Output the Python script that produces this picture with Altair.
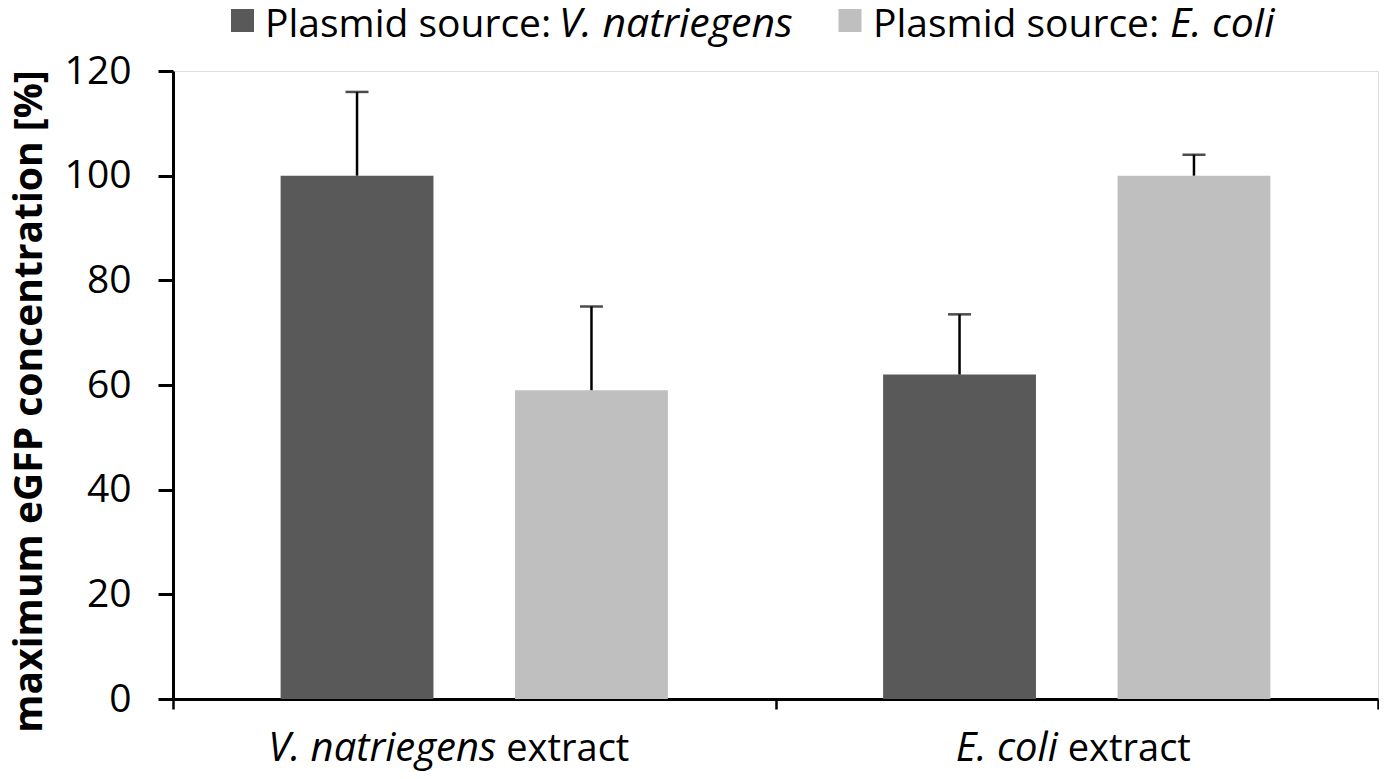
import altair as alt
import pandas as pd

# ---- data ----
extracts = ["V. natriegens extract", "E. coli extract"]
sources = ["V. natriegens", "E. coli"]
colors = ["#595959", "#bfbfbf"]
# mean values per extract, for each plasmid source
mean_vn_plasmid = [100, 62]
mean_ec_plasmid = [59, 100]
# upper error (SD) per extract, for each plasmid source
err_vn_plasmid = [16, 11.5]
err_ec_plasmid = [16, 4]

label_italic = ["V. natriegens", "E. coli"]
label_regular = ["extract", "extract"]
legend_prefix = "Plasmid source:"
y_ticks = [0, 20, 40, 60, 80, 100, 120]
y_title = "maximum eGFP concentration [%]"

rows = []
for i, ex in enumerate(extracts):
    rows.append({"extract": ex, "source": sources[0], "value": mean_vn_plasmid[i],
                 "upper": mean_vn_plasmid[i] + err_vn_plasmid[i]})
    rows.append({"extract": ex, "source": sources[1], "value": mean_ec_plasmid[i],
                 "upper": mean_ec_plasmid[i] + err_ec_plasmid[i]})
df = pd.DataFrame(rows)
lab_df = pd.DataFrame({"extract": extracts, "italic": label_italic, "regular": label_regular})
one = pd.DataFrame({"k": [0]})

W, H = 1205, 628
FONT = "Open Sans"

x_enc = alt.X("extract:N", sort=extracts,
              scale=alt.Scale(domain=extracts, paddingInner=0, paddingOuter=0),
              axis=alt.Axis(title=None, labels=False, tickBand="extent", tickSize=10,
                            tickWidth=2.5, tickColor="black", domainColor="black",
                            domainWidth=3))
xoff = alt.XOffset("source:N", sort=sources,
                   scale=alt.Scale(domain=sources, paddingInner=0.348, paddingOuter=0.459))
y_scale = alt.Scale(domain=[0, 120], nice=False)
y_axis = alt.Axis(values=y_ticks, tickSize=15, tickWidth=3, tickColor="black",
                  domainColor="black", domainWidth=3, grid=False,
                  labelFont=FONT, labelFontSize=39, labelColor="black", labelPadding=27,
                  title=y_title, titleFont=FONT, titleFontSize=39, titleFontWeight="bold",
                  titleColor="black", titleAngle=270, titleX=-132, titleY=330,
                  titleBaseline="alphabetic", titleAlign="center")

bars = alt.Chart(df).mark_bar().encode(
    x=x_enc, xOffset=xoff,
    y=alt.Y("value:Q", scale=y_scale, axis=y_axis),
    color=alt.Color("source:N", sort=sources,
                    scale=alt.Scale(domain=sources, range=colors), legend=None),
)
err = alt.Chart(df).mark_rule(color="black", strokeWidth=2.5).encode(
    x=alt.X("extract:N", sort=extracts), xOffset=alt.XOffset("source:N", sort=sources),
    y="value:Q", y2="upper:Q")
caps = alt.Chart(df).mark_tick(color="black", size=23, thickness=2.5).encode(
    x=alt.X("extract:N", sort=extracts), xOffset=alt.XOffset("source:N", sort=sources),
    y="upper:Q")

layers = [bars, err, caps]

# x-axis category labels with mixed italic / regular text
label_split = [(22, 32), (-19, -9)]
for i, ex in enumerate(extracts):
    base = alt.Chart(lab_df).transform_filter(alt.datum.extract == ex)
    layers.append(base.mark_text(font=FONT, fontSize=40, fontStyle="italic", align="right",
                                 baseline="alphabetic", dx=label_split[i][0], color="black")
                  .encode(x=alt.X("extract:N", sort=extracts), y=alt.value(H + 62), text="italic:N"))
    layers.append(base.mark_text(font=FONT, fontSize=38, align="left",
                                 baseline="alphabetic", dx=label_split[i][1], color="black")
                  .encode(x=alt.X("extract:N", sort=extracts), y=alt.value(H + 62), text="regular:N"))

# custom legend
leg_sq_x = [69.5, 677]
leg_txt_x = [92, 700]
leg_ital_x = [386, 997]
for i, s in enumerate(sources):
    layers.append(alt.Chart(one).mark_square(size=529, color=colors[i], opacity=1)
                  .encode(x=alt.value(leg_sq_x[i]), y=alt.value(-50.5)))
    layers.append(alt.Chart(one).mark_text(font=FONT, fontSize=39, align="left",
                                           baseline="alphabetic", color="black")
                  .encode(x=alt.value(leg_txt_x[i]), y=alt.value(-34), text=alt.value(legend_prefix)))
    layers.append(alt.Chart(one).mark_text(font=FONT, fontSize=41, fontStyle="italic", align="left",
                                           baseline="alphabetic", color="black")
                  .encode(x=alt.value(leg_ital_x[i]), y=alt.value(-34), text=alt.value(s)))

chart = alt.layer(*layers).properties(
    width=W, height=H,
    autosize=alt.AutoSizeParams(type="none"),
    padding={"left": 165, "top": 63, "right": 1, "bottom": 72},
).configure_view(stroke="black", strokeWidth=3).configure(background="white")

chart.save("out.html", embed_options={"renderer": "svg", "actions": False})
